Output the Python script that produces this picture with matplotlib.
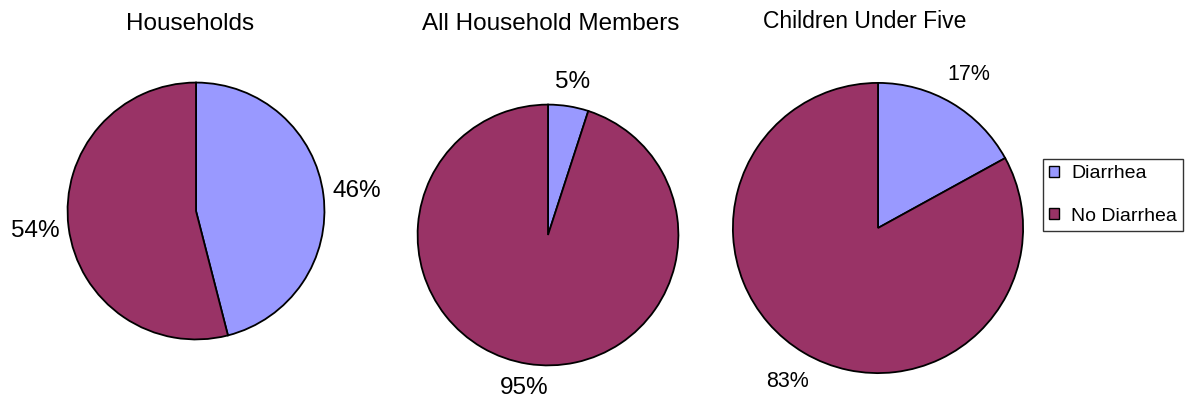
import matplotlib
matplotlib.use("Agg")
import matplotlib.pyplot as plt
from matplotlib.patches import Patch

plt.rcParams['font.family'] = ['Liberation Sans', 'DejaVu Sans']

categories = ["Diarrhea", "No Diarrhea"]
titles = ["Households", "All Household Members", "Children Under Five"]
households = [46, 54]
members = [5, 95]
children = [17, 83]
colors = ["#9999FF", "#993366"]

W, H = 1185, 404
fig = plt.figure(figsize=(W / 100, H / 100), dpi=100)

# (center x, center y, radius) in pixels, label fontsize, pctdistance, title pos, title size
specs = [
    (196, 211, 131, 17.5, 1.26, households, (190, 24), 17.5),
    (548, 235, 133, 17.5, 1.19, members, (551, 24), 17.5),
    (878, 228, 148, 15.5, 1.23, children, (865, 21), 16.5),
]

for (cx, cy, r, fs, pd, vals, tpos, tfs), title in zip(specs, titles):
    ax = fig.add_axes([(cx - r) / W, 1 - (cy + r) / H, 2 * r / W, 2 * r / H])
    ax.pie(vals, colors=colors, startangle=90, counterclock=False,
           autopct=lambda p: f"{p:.0f}%", pctdistance=pd,
           wedgeprops=dict(edgecolor="black", linewidth=1.3),
           textprops=dict(fontsize=fs, color="black"))
    ax.set_xlim(-1.02, 1.02)
    ax.set_ylim(-1.02, 1.02)
    ax.set_aspect("equal")
    ax.axis("off")
    fig.text(tpos[0] / W, 1 - tpos[1] / H, title, ha="center", va="center", fontsize=tfs)

handles = [Patch(facecolor=c, edgecolor="black", label=l) for c, l in zip(colors, categories)]
leg = fig.legend(handles=handles, loc="center left",
                 bbox_to_anchor=(1043 / W, 1 - 195 / H), fontsize=14,
                 frameon=True, fancybox=False, edgecolor="black",
                 handlelength=0.52, handleheight=0.52, handletextpad=0.62,
                 labelspacing=1.3, borderpad=0.32, borderaxespad=0)
leg.get_frame().set_linewidth(1.0)

fig.savefig("out.png", dpi=100)
